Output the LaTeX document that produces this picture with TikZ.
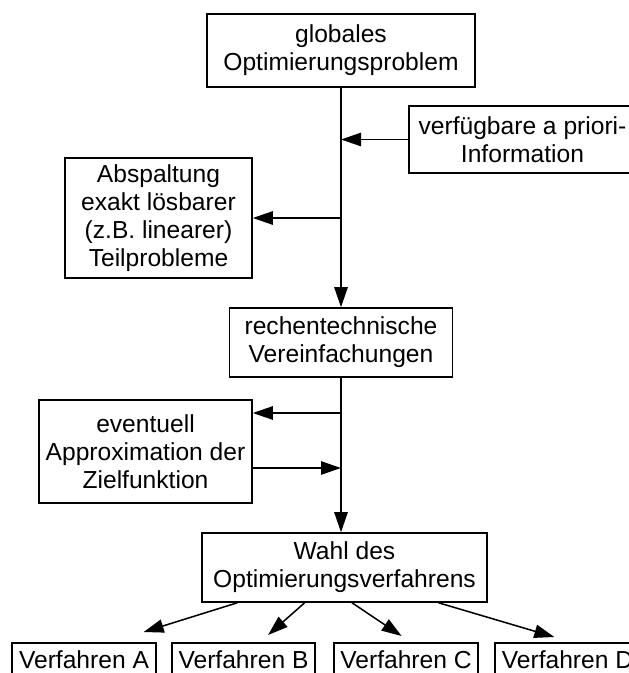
\documentclass[tikz,border=0pt]{standalone}
\usepackage{fontspec}
\setmainfont{Liberation Sans}
\usetikzlibrary{arrows.meta,positioning,calc}

\begin{document}
\begin{tikzpicture}[x=0.03cm,y=-0.03cm,line width=1.3pt,
        >={Triangle[length=0.6cm,width=0.4cm]},
        box/.style={draw,inner sep=0pt,align=center,font=\fontsize{21pt}{24pt}\selectfont},
        method/.style={box,anchor=north,text height=0.78cm,text depth=0.6cm}]
        \useasboundingbox (0,0) rectangle (629,673);
        \clip (0,0) rectangle (629,673);
        % main column
        \node[box,minimum width=8.04cm,minimum height=2.19cm] (prob) at (341,50.5) {globales\\Optimierungsproblem};
        \node[box,minimum width=6.69cm,minimum height=2.07cm] (simp) at (341,342.5) {rechentechnische\\Vereinfachungen};
        \node[box,minimum width=8.55cm,minimum height=2.07cm] (wahl) at (344.5,567.5) {Wahl des\\Optimierungsverfahrens};
        % side boxes
        \node[box,minimum width=6.81cm,minimum height=2.01cm] (info) at (522.5,139.5) {verfügbare a priori-\\Information};
        \node[box,minimum width=5.61cm,minimum height=3.6cm] (split) at (158.5,218) {Abspaltung\\exakt lösbarer\\(z.B. linearer)\\Teilprobleme};
        \node[box,minimum width=6.39cm,minimum height=3.09cm] (approx) at (145.5,451.5) {eventuell\\Approximation der\\Zielfunktion};
        % methods
        \node[method,minimum width=4.32cm] (v_A) at (84,642) {Verfahren A};
        \node[method,minimum width=4.29cm] (v_B) at (243.5,642) {Verfahren B};
        \node[method,minimum width=4.32cm] (v_C) at (406,642) {Verfahren C};
        \node[method,minimum width=4.35cm] (v_D) at (567.5,642) {Verfahren D};
        \coordinate (t_1) at (341,413);
        \coordinate (t_2) at (341,468);
         \path[->]
         (prob) edge (simp)
         (info) edge (info -| prob)
         (split -| prob) edge (split)
         (simp) edge (simp |- wahl.north)
         (t_1) edge (t_1 -| approx.east)
         (t_2 -| approx.east) edge (t_2)
         ($(wahl.south west)!0.126!(wahl.south east)$) edge ($(v_A.north west)!0.91!(v_A.north east)+(0,-10)$)
         ($(wahl.south west)!0.361!(wahl.south east)$) edge ($(v_B.north west)!0.67!(v_B.north east)+(0,-7)$)
         ($(wahl.south west)!0.526!(wahl.south east)$) edge ($(v_C.north west)!0.47!(v_C.north east)+(0,-6)$)
         ($(wahl.south west)!0.828!(wahl.south east)$) edge ($(v_D.north west)!0.41!(v_D.north east)+(0,-5)$);
      \end{tikzpicture}
\end{document}
